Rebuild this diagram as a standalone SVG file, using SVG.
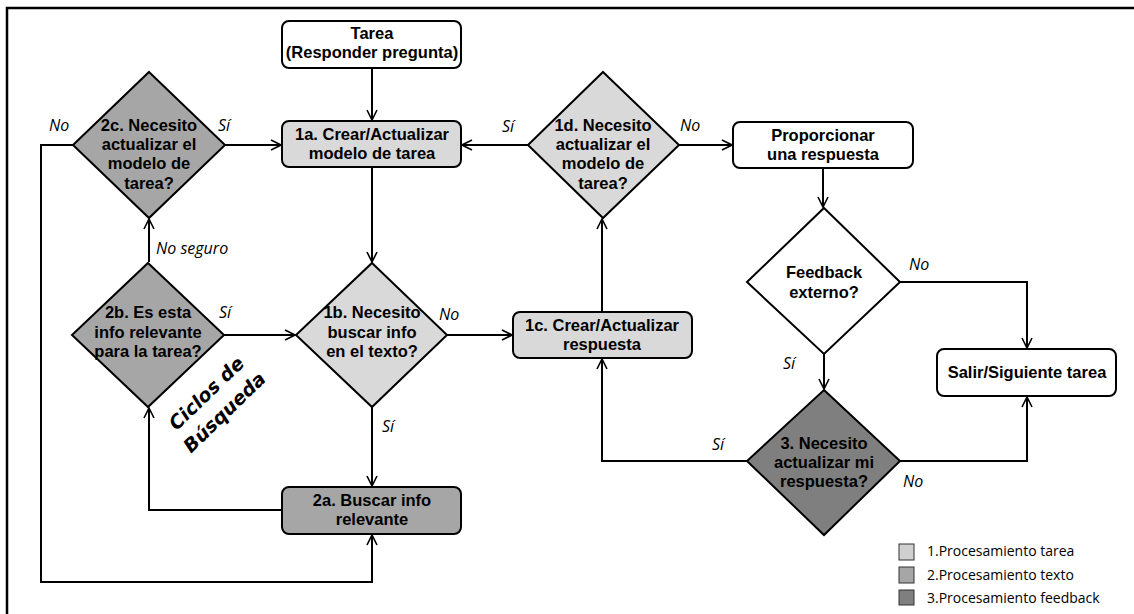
<svg xmlns="http://www.w3.org/2000/svg" width="1134" height="614" viewBox="0 0 1134 614">
<defs>
<marker id="arr" viewBox="0 0 12 12" refX="11" refY="6" markerWidth="12" markerHeight="12" markerUnits="userSpaceOnUse" orient="auto">
<path d="M1,1 L11,6 L1,11" fill="none" stroke="#000" stroke-width="1.6"/>
</marker>
<style>
.n{stroke:#000;stroke-width:2}
.t{font-family:"Liberation Sans",Arial,sans-serif;font-weight:bold;font-size:16.5px;text-anchor:middle;fill:#000}
.l{font-family:"Open Sans",sans-serif;font-style:italic;font-size:16px;fill:#000}
.c{fill:none;stroke:#000;stroke-width:2;marker-end:url(#arr)}
.g{font-family:"Open Sans",sans-serif;font-size:14px;fill:#000}
.k{font-family:"DejaVu Sans",sans-serif;font-weight:bold;font-style:italic;font-size:19px;text-anchor:middle;fill:#000}
.w{fill:#fff}.p1{fill:#d9d9d9}.p2{fill:#a6a6a6}.p3{fill:#7f7f7f}
</style>
</defs>
<rect width="1134" height="614" fill="#fff"/>
<path d="M7,614 V8 H1134" fill="none" stroke="#000" stroke-width="2.5"/>

<g id="connectors">
<path class="c" d="M372,68 V120"/>
<path class="c" d="M225,145 H281"/>
<path class="c" d="M528,145 H462"/>
<path class="c" d="M679,145 H732"/>
<path class="c" d="M372,167 V262"/>
<path class="c" d="M149,262 V219"/>
<path class="c" d="M73,145 H41 V582 H372 V535"/>
<path class="c" d="M224,335 H295"/>
<path class="c" d="M447,335 H512"/>
<path class="c" d="M372,407 V486"/>
<path class="c" d="M282,510 H149 V408"/>
<path class="c" d="M602,312 V219"/>
<path class="c" d="M823,168 V207"/>
<path class="c" d="M900,282 H1027 V348"/>
<path class="c" d="M824,354 V389"/>
<path class="c" d="M900,461 H1027 V397"/>
<path class="c" d="M747,461 H602 V359"/>
<text class="l" x="49" y="131">No</text>
<text class="l" x="218" y="131">Sí</text>
<text class="l" x="156" y="254">No seguro</text>
<text class="l" x="219" y="318">Sí</text>
<text class="l" x="439" y="320">No</text>
<text class="l" x="382" y="432">Sí</text>
<text class="l" x="502" y="132">Sí</text>
<text class="l" x="680" y="131">No</text>
<text class="l" x="909" y="270">No</text>
<text class="l" x="783" y="369">Sí</text>
<text class="l" x="903" y="487">No</text>
<text class="l" x="712" y="450">Sí</text>
</g>

<g id="tarea">
<rect class="n w" x="282" y="21" width="179" height="47" rx="7"/>
<text class="t" x="372" y="39">Tarea</text>
<text class="t" x="372" y="58">(Responder pregunta)</text>
</g>
<g id="n1a">
<rect class="n p1" x="282" y="121" width="179" height="46" rx="7"/>
<text class="t" x="372" y="140">1a. Crear/Actualizar</text>
<text class="t" x="372" y="159">modelo de tarea</text>
</g>
<g id="n2c">
<polygon class="n p2" points="149,72 225,145 149,218 73,145"/>
<text class="t" x="149" y="131">2c. Necesito</text>
<text class="t" x="149" y="150">actualizar el</text>
<text class="t" x="149" y="169">modelo de</text>
<text class="t" x="149" y="189">tarea?</text>
</g>
<g id="n1d">
<polygon class="n p1" points="603,72 679,145 603,218 528,145"/>
<text class="t" x="603" y="131">1d. Necesito</text>
<text class="t" x="603" y="150">actualizar el</text>
<text class="t" x="603" y="169">modelo de</text>
<text class="t" x="603" y="189">tarea?</text>
</g>
<g id="proporcionar">
<rect class="n w" x="733" y="122" width="180" height="46" rx="7"/>
<text class="t" x="823" y="141">Proporcionar</text>
<text class="t" x="823" y="160">una respuesta</text>
</g>
<g id="n2b">
<polygon class="n p2" points="148,263 224,335 148,407 72,335"/>
<text class="t" x="148" y="318">2b. Es esta</text>
<text class="t" x="148" y="338">info relevante</text>
<text class="t" x="148" y="357">para la tarea?</text>
</g>
<g id="n1b">
<polygon class="n p1" points="372,263 447,335 372,407 296,335"/>
<text class="t" x="372" y="318">1b. Necesito</text>
<text class="t" x="372" y="338">buscar info</text>
<text class="t" x="372" y="357">en el texto?</text>
</g>
<g id="n1c">
<rect class="n p1" x="513" y="312" width="179" height="46" rx="7"/>
<text class="t" x="602" y="331">1c. Crear/Actualizar</text>
<text class="t" x="602" y="350">respuesta</text>
</g>
<g id="feedback">
<polygon class="n w" points="824,208 900,282 824,354 747,282"/>
<text class="t" x="824" y="278">Feedback</text>
<text class="t" x="824" y="298">externo?</text>
</g>
<g id="salir">
<rect class="n w" x="937" y="349" width="179" height="47" rx="7"/>
<text class="t" x="1027" y="378">Salir/Siguiente tarea</text>
</g>
<g id="n3">
<polygon class="n p3" points="824,390 900,461 824,535 747,461"/>
<text class="t" x="824" y="449">3. Necesito</text>
<text class="t" x="824" y="468">actualizar mi</text>
<text class="t" x="824" y="487">respuesta?</text>
</g>
<g id="n2a">
<rect class="n p2" x="282" y="487" width="179" height="47" rx="7"/>
<text class="t" x="372" y="506">2a. Buscar info</text>
<text class="t" x="372" y="525">relevante</text>
</g>
<g id="ciclos">
<text class="k" transform="translate(211,398) rotate(-44)">Ciclos de</text>
<text class="k" transform="translate(229,417) rotate(-44)">Búsqueda</text>
</g>
<g id="legend">
<rect x="899" y="544" width="15" height="16" fill="#d0d0d0" stroke="#333" stroke-width="1"/>
<rect x="899" y="567" width="15" height="16" fill="#a6a6a6" stroke="#333" stroke-width="1"/>
<rect x="899" y="590" width="15" height="15" fill="#7f7f7f" stroke="#333" stroke-width="1"/>
<text class="g" x="927" y="556">1.Procesamiento tarea</text>
<text class="g" x="927" y="580">2.Procesamiento texto</text>
<text class="g" x="927" y="603">3.Procesamiento feedback</text>
</g>
</svg>
